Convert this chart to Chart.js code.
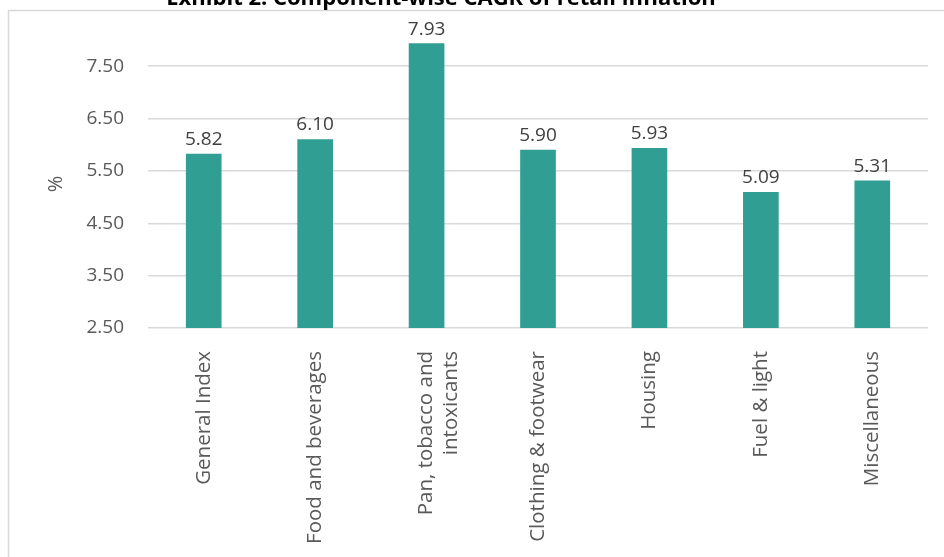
<!DOCTYPE html>
<html>
<head>
<meta charset="utf-8">
<script src="https://cdn.jsdelivr.net/npm/chart.js@4"></script>
<style>
html,body{margin:0;padding:0;background:#fff;}
#wrap{width:944px;height:557px;position:relative;}
</style>
</head>
<body>
<div id="wrap"><canvas id="c" width="944" height="557"></canvas></div>
<script>
const categories = ["General Index", "Food and beverages", ["Pan, tobacco and", "intoxicants"], "Clothing & footwear", "Housing", "Fuel & light", "Miscellaneous"];
const cagrValues = [5.82, 6.10, 7.93, 5.90, 5.93, 5.09, 5.31];
const yTickValues = [2.5, 3.5, 4.5, 5.5, 6.5, 7.5];
const chartTitle = "Exhibit 2: Component-wise CAGR of retail inflation";
const yAxisTitle = "%";

const FONT = "'Open Sans', sans-serif";
const GREY = "#595959";

const frame = {
  id: 'frame',
  beforeDraw(chart) {
    const ctx = chart.ctx;
    ctx.save();
    ctx.fillStyle = '#fff';
    ctx.fillRect(0, 0, chart.width, chart.height);
    ctx.strokeStyle = '#D9D9D9';
    ctx.lineWidth = 1.5;
    ctx.beginPath();
    ctx.moveTo(8.5, chart.height);
    ctx.lineTo(8.5, 10.5);
    ctx.lineTo(chart.width, 10.5);
    ctx.stroke();
    ctx.fillStyle = '#000';
    ctx.font = "bold 22px " + FONT;
    ctx.textAlign = 'center';
    ctx.textBaseline = 'alphabetic';
    ctx.fillText(chartTitle, 441, 5);
    ctx.restore();
  }
};

const valueLabels = {
  id: 'valueLabels',
  afterDatasetsDraw(chart) {
    const ctx = chart.ctx;
    const meta = chart.getDatasetMeta(0);
    ctx.save();
    ctx.fillStyle = '#404040';
    ctx.font = "19px " + FONT;
    ctx.textAlign = 'center';
    ctx.textBaseline = 'alphabetic';
    meta.data.forEach((bar, i) => {
      ctx.fillText(cagrValues[i].toFixed(2), bar.x, bar.y - 9);
    });
    ctx.restore();
  }
};

new Chart(document.getElementById('c'), {
  type: 'bar',
  data: {
    labels: categories,
    datasets: [{
      data: cagrValues,
      backgroundColor: '#319E93',
      borderWidth: 0,
      barThickness: 35
    }]
  },
  options: {
    responsive: false,
    animation: false,
    devicePixelRatio: 1,
    layout: { padding: { top: 40, right: 16, left: 0, bottom: 0 } },
    plugins: { legend: { display: false }, tooltip: { enabled: false }, title: { display: false } },
    scales: {
      x: {
        grid: { display: false },
        border: { display: false },
        ticks: {
          color: GREY,
          font: { family: FONT, size: 20.5 },
          minRotation: 90,
          maxRotation: 90,
          padding: 15,
          autoSkip: false
        },
        afterFit(scale) { scale.height = 557 - 328; }
      },
      y: {
        min: 2.5,
        max: 8.0,
        afterBuildTicks(scale) { scale.ticks = yTickValues.map(v => ({ value: v })); },
        grid: { color: '#D9D9D9', lineWidth: 1.5, drawTicks: false },
        border: { display: false },
        ticks: {
          color: GREY,
          font: { family: FONT, size: 19 },
          padding: 24,
          callback: v => Number(v).toFixed(2)
        },
        title: {
          display: true,
          text: yAxisTitle,
          color: GREY,
          font: { family: FONT, size: 20 },
          padding: { top: 44, bottom: 0 }
        },
        afterFit(scale) { scale.width = 148; }
      }
    }
  },
  plugins: [frame, valueLabels]
});
</script>
</body>
</html>
